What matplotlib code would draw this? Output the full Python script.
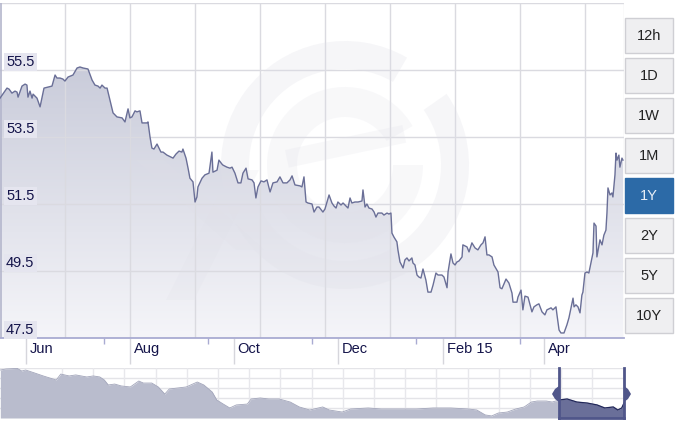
import datetime as dt
import numpy as np
import matplotlib
matplotlib.use("Agg")
import matplotlib.pyplot as plt
import matplotlib.dates as mdates
from matplotlib.patches import Rectangle, Polygon, Wedge
from matplotlib.colors import LinearSegmentedColormap

# ---------------- data ----------------
START = dt.date(2014, 5, 17)
SPAN_DAYS = 366

days = [0.0, 4.1, 5.3, 7.0, 8.8, 10.0, 10.6, 12.9, 14.7, 15.8, 16.4, 17.6, 18.8, 19.4, 21.7, 23.5,
        25.8, 28.2, 30.5, 32.3, 33.4, 35.2, 36.9, 38.1, 39.9, 42.8, 45.2, 46.9, 48.7, 51.6, 54.0,
        55.7, 57.5, 58.7, 59.8, 61.6, 62.8, 64.5, 66.3, 68.6, 71.6, 73.3, 75.1, 76.2, 77.4, 79.2,
        80.3, 82.1, 83.3, 86.2, 86.8, 88.0, 89.1, 90.3, 92.1, 94.4, 95.6, 97.9, 100.3, 101.5,
        103.2, 105.0, 106.7, 107.3, 109.1, 110.3, 111.4, 113.2, 114.4, 115.5, 116.1, 118.5,
        120.2, 122.6, 124.3, 124.9, 127.3, 128.4, 130.2, 130.8, 133.1, 134.9, 136.1, 137.8,
        139.6, 141.3, 142.5, 144.3, 145.5, 147.8, 149.0, 150.1, 151.3, 153.1, 154.8, 156.6,
        158.4, 160.1, 162.5, 164.2, 166.0, 168.3, 170.1, 171.3, 173.0, 176.0, 177.1, 178.3,
        179.5, 180.6, 183.0, 184.2, 185.9, 187.1, 189.4, 190.6, 191.8, 193.0, 194.7, 195.9,
        197.1, 198.2, 200.0, 201.2, 203.5, 204.1, 205.3, 206.4, 208.2, 210.0, 212.3, 212.9,
        214.1, 215.2, 216.4, 218.2, 219.4, 220.5, 221.7, 224.0, 225.2, 227.0, 228.1, 229.3,
        229.9, 231.1, 232.8, 233.4, 234.6, 236.4, 237.5, 238.7, 239.9, 241.6, 242.2, 243.4,
        244.6, 245.7, 246.9, 248.1, 249.8, 251.0, 252.8, 254.0, 255.7, 256.9, 259.2, 260.4,
        262.2, 262.8, 264.5, 265.7, 266.9, 268.0, 269.2, 271.0, 271.5, 273.9, 275.1, 276.8,
        278.6, 280.3, 282.1, 283.3, 284.5, 285.6, 286.8, 288.6, 289.7, 292.1, 293.3, 294.4,
        296.8, 298.5, 300.3, 300.9, 303.2, 303.8, 305.6, 306.7, 307.9, 309.7, 312.0, 313.2,
        314.9, 316.1, 317.9, 319.6, 320.8, 323.2, 324.3, 326.1, 326.7, 327.9, 329.0, 330.8,
        332.5, 333.7, 334.9, 336.1, 336.7, 337.8, 339.0, 340.2, 341.3, 341.9, 343.1, 344.3,
        345.4, 346.6, 347.8, 348.4, 349.6, 350.1, 351.9, 353.1, 354.2, 355.4, 356.0, 356.6,
        357.8, 358.9, 359.5, 360.7, 361.3, 361.9, 363.0, 363.6, 364.8, 365.4]

rates = [54.66, 54.96, 54.93, 54.81, 54.87, 54.84, 54.69, 55.02, 55.08, 55.05, 54.69, 54.87, 54.66,
         54.78, 54.66, 54.40, 54.96, 54.99, 55.02, 55.35, 55.26, 55.26, 55.23, 55.17, 55.29, 55.35,
         55.56, 55.59, 55.56, 55.53, 55.20, 55.05, 55.02, 54.96, 55.05, 54.96, 54.96, 54.60, 54.22,
         54.10, 54.07, 53.95, 54.34, 54.07, 54.10, 54.28, 54.25, 54.28, 53.92, 53.92, 53.95, 53.50,
         53.17, 53.14, 53.29, 53.05, 53.05, 52.96, 52.90, 52.87, 52.99, 53.08, 53.05, 53.14, 52.87,
         52.57, 52.27, 52.16, 51.56, 51.71, 52.01, 52.27, 52.37, 52.42, 53.05, 52.45, 52.51, 52.81,
         52.69, 52.66, 52.60, 52.57, 52.60, 52.42, 52.13, 52.13, 52.42, 52.57, 52.25, 52.22, 52.13,
         51.68, 52.01, 52.19, 52.16, 52.22, 51.86, 52.13, 52.16, 52.31, 52.13, 52.13, 52.22, 52.34,
         52.07, 52.04, 52.01, 52.31, 51.56, 51.53, 51.50, 51.26, 51.41, 51.41, 51.26, 51.35, 51.56,
         51.77, 51.53, 51.44, 51.38, 51.56, 51.47, 51.53, 51.41, 51.38, 51.68, 51.53, 51.56, 51.56,
         51.59, 51.92, 51.41, 51.50, 51.38, 51.35, 51.26, 51.11, 51.23, 51.23, 51.17, 51.23, 51.20,
         51.23, 50.63, 50.51, 50.37, 50.13, 49.77, 49.59, 49.83, 49.89, 49.80, 49.89, 49.74, 49.68,
         49.38, 49.32, 49.29, 49.56, 49.23, 48.87, 48.87, 49.08, 49.44, 49.38, 49.38, 49.32, 49.00,
         49.47, 50.01, 49.74, 49.68, 49.77, 49.80, 49.92, 50.28, 50.22, 50.07, 50.34, 50.19, 50.13,
         50.28, 50.34, 50.52, 49.98, 49.98, 49.92, 49.68, 49.47, 49.00, 48.97, 49.26, 49.14, 48.84,
         48.57, 48.57, 48.72, 48.93, 48.34, 48.75, 48.72, 48.28, 48.43, 48.49, 48.52, 48.28, 48.19,
         48.34, 48.40, 48.34, 48.43, 48.19, 47.74, 47.65, 47.65, 47.89, 48.10, 48.40, 48.69, 48.43,
         48.49, 48.43, 48.25, 48.78, 48.87, 49.44, 49.47, 49.44, 49.74, 50.04, 50.93, 50.84, 49.92,
         50.43, 50.28, 50.57, 50.72, 51.23, 51.98, 51.77, 51.83, 51.71, 52.37, 53.02, 52.81, 52.96,
         52.60, 52.87, 52.81]

nav_years = [2005.78, 2005.87, 2006.04, 2006.11, 2006.17, 2006.31, 2006.44, 2006.64, 2006.71, 2006.84,
             2006.94, 2007.11, 2007.21, 2007.31, 2007.38, 2007.44, 2007.54, 2007.64, 2007.78, 2007.91,
             2007.98, 2008.11, 2008.21, 2008.31, 2008.38, 2008.51, 2008.64, 2008.81, 2008.91, 2009.04,
             2009.11, 2009.21, 2009.31, 2009.41, 2009.58, 2009.64, 2009.78, 2009.91, 2010.07, 2010.24,
             2010.38, 2010.54, 2010.74, 2010.84, 2011.04, 2011.17, 2011.44, 2011.64, 2011.78, 2011.98,
             2012.18, 2012.44, 2012.71, 2012.98, 2013.11, 2013.24, 2013.34, 2013.44, 2013.58, 2013.71,
             2013.84, 2013.95, 2014.04, 2014.18, 2014.27, 2014.38, 2014.50, 2014.65, 2014.81, 2014.96,
             2015.08, 2015.21, 2015.28, 2015.34, 2015.375]
nav_values = [75.2, 75.9, 76.3, 74.5, 75.2, 73.1, 71.1, 68.3, 72.4, 71.1,
              71.8, 70.4, 71.1, 70.4, 68.3, 64.9, 65.5, 64.2, 63.5, 67.6,
              66.2, 66.2, 63.5, 58.6, 62.1, 62.8, 63.5, 66.9, 64.9, 60.0,
              54.5, 51.7, 49.0, 51.1, 51.7, 55.2, 55.9, 55.2, 55.2, 53.1,
              49.7, 47.6, 49.7, 47.6, 46.2, 48.3, 49.0, 48.3, 48.3, 48.3,
              48.3, 49.0, 49.0, 48.3, 47.6, 44.2, 43.5, 45.5, 46.2, 48.3,
              49.7, 53.1, 53.8, 53.8, 53.1, 54.5, 55.2, 53.1, 52.4, 51.1,
              49.0, 49.7, 47.6, 49.0, 52.4]

y_ticks = [47.5, 49.5, 51.5, 53.5, 55.5]
y_grid = [49.5, 51.5, 53.5, 55.5, 57.5]
x_tick_dates = ["2014-06-01", "2014-08-01", "2014-10-01", "2014-12-01", "2015-02-01", "2015-04-01"]
x_tick_labels = ["Jun", "Aug", "Oct", "Dec", "Feb 15", "Apr"]
x_minor_dates = ["2014-07-17", "2014-09-16", "2014-11-16", "2015-01-16", "2015-03-18"]
buttons = ["12h", "1D", "1W", "1M", "1Y", "2Y", "5Y", "10Y"]
active_button = "1Y"
nav_sel_start = 2014.375
nav_range = (2005.775, 2015.375)

# ---------------- style ----------------
LINE = "#6a6f97"
GRID = "#dadae0"
LABEL = "#14144a"
W, H = 680, 423

plt.rcParams["font.family"] = ["Liberation Sans", "DejaVu Sans"]
fig = plt.figure(figsize=(W / 100, H / 100), dpi=100)
fig.patch.set_facecolor("white")


def fx(px):
    return px / W


def fy(py):
    return 1 - py / H


# pixel-space helper axes (for watermark / buttons)
px_ax = fig.add_axes([0, 0, 1, 1], zorder=-1)
px_ax.set_xlim(0, W)
px_ax.set_ylim(H, 0)
px_ax.axis("off")

# main axes: x px 0..624, y px 3..338
ax = fig.add_axes([fx(0), fy(338), fx(624), (338 - 3) / H])
ax.patch.set_alpha(0)
x0 = mdates.date2num(START)
xs = x0 + np.array(days)
ax.set_xlim(x0, x0 + SPAN_DAYS)
ax.set_ylim(47.5, 57.5)
for s in ax.spines.values():
    s.set_visible(False)
ax.set_yticks([])

# gradient fill under the line
cmap = LinearSegmentedColormap.from_list("g", ["#f5f5f9", "#bfc2d3"])
grad = np.linspace(0, 1, 256).reshape(-1, 1)
im = ax.imshow(grad, extent=[x0, x0 + SPAN_DAYS, 47.5, 57.5], origin="lower",
               aspect="auto", cmap=cmap, zorder=1, interpolation="bilinear")
verts = [(xs[0], 47.5)] + list(zip(xs, rates)) + [(xs[-1], 47.5)]
clip = Polygon(verts, closed=True, facecolor="none", edgecolor="none")
ax.add_patch(clip)
im.set_clip_path(clip)

# grid
for v in y_grid:
    ax.axhline(v, color=GRID, lw=1, zorder=2)
step = SPAN_DAYS * 65 / 624
for k in range(1, 10):
    ax.axvline(x0 + k * step, color=GRID, lw=1, zorder=2)
ax.axvline(x0 + SPAN_DAYS, color="#e6e6ea", lw=1, zorder=2)
ax.axvline(x0 + 0.3, color="#b4b6cc", lw=1.2, zorder=3)

# faint watermark (xe logo ring + x)
ring = Wedge((345, 165), 124, -35, 300, width=28, facecolor="#e0e0e8", alpha=0.28,
             edgecolor="none", zorder=2.5, transform=px_ax.transData)
ax.add_artist(ring)
inner = Wedge((345, 165), 78, 0, 330, width=30, facecolor="#e0e0e8", alpha=0.22,
              edgecolor="none", zorder=2.5, transform=px_ax.transData)
ax.add_artist(inner)
bar = Rectangle((285, 150), 120, 18, angle=-12, facecolor="#e0e0e8", alpha=0.22,
                edgecolor="none", zorder=2.5, transform=px_ax.transData)
ax.add_artist(bar)
for (a, b), (c, d) in (((150, 160), (250, 250)), ((180, 300), (245, 170))):
    xp = Polygon([(a - 14, b), (a + 14, b), (c + 14, d), (c - 14, d)], closed=True,
                 facecolor="#e0e0e8", alpha=0.2, edgecolor="none", zorder=2.5,
                 transform=px_ax.transData)
    ax.add_artist(xp)

# the line
ax.plot(xs, rates, color=LINE, lw=1.0, zorder=4, solid_joinstyle="round")

# bottom axis line
ax.axhline(47.5, color="#a9abd2", lw=1.3, zorder=5, clip_on=False)

# x ticks
major = [mdates.date2num(dt.date.fromisoformat(d)) for d in x_tick_dates]
minor = [mdates.date2num(dt.date.fromisoformat(d)) for d in x_minor_dates]
ax.set_xticks(major)
ax.set_xticklabels([])
ax.set_xticks(minor, minor=True)
ax.tick_params(axis="x", which="major", length=19, width=1, color="#d6d6dc", direction="out")
ax.tick_params(axis="x", which="minor", length=4, width=1, color="#a9abd2", direction="out")
for m, lab in zip(major, x_tick_labels):
    ax.annotate(lab, xy=(m, 0), xycoords=("data", "axes fraction"), xytext=(4, -11),
                textcoords="offset pixels", ha="left", va="center", fontsize=10.5,
                color=LABEL, annotation_clip=False)

# y labels inside plot
for v in y_ticks:
    ax.annotate(f"{v:.1f}", xy=(0, v), xycoords=("axes fraction", "data"), xytext=(6, 8),
                textcoords="offset pixels", ha="left", va="center", fontsize=10.5,
                color=LABEL, zorder=6,
                bbox=dict(boxstyle="square,pad=0.15", facecolor="#e5e5ef", edgecolor="none"))

# ---------------- navigator ----------------
nav = fig.add_axes([fx(0), fy(418), fx(624), 50 / H])
nav.set_xlim(*nav_range)
nav.set_ylim(42.08, 76.58)
for s in nav.spines.values():
    s.set_visible(False)
nav.set_xticks([])
nav.set_yticks([])
for k in range(5):
    nav.axhline(76.58 - k * (76.58 - 42.08) / 5, color="#e4e4e8", lw=1, zorder=0)
nstep = (nav_range[1] - nav_range[0]) * 31.2 / 624
for k in range(1, 20):
    nav.axvline(nav_range[0] + (62 / 624) * (nav_range[1] - nav_range[0]) + (k - 1) * nstep,
                color="#e8e8ec", lw=1, zorder=0)
ny = np.array(nav_years)
nv = np.array(nav_values)
nav.fill_between(ny, nv, 42.08, color="#b9bccd", lw=0, zorder=1)
nav.plot(ny, nv, color="#a2a5ba", lw=0.6, zorder=2)
sx = np.concatenate(([nav_sel_start], ny[ny > nav_sel_start]))
sv = np.interp(sx, ny, nv)
nav.fill_between(sx, sv, 42.08, color="#6a6f99", lw=0, zorder=3)
nav.plot(sx, sv, color="#22285a", lw=0.9, zorder=4)
for xv in (nav_sel_start, nav_range[1]):
    nav.axvline(xv, color="#50568a", lw=2, zorder=5, clip_on=False)
nav.plot([nav_sel_start, nav_range[1]], [42.08, 42.08], color="#50568a", lw=2, zorder=5,
         clip_on=False)

# ---------------- overlay: handles and buttons ----------------
ov = fig.add_axes([0, 0, 1, 1], zorder=10)
ov.set_xlim(0, W)
ov.set_ylim(H, 0)
ov.axis("off")
ov.patch.set_alpha(0)
for hx, d in ((559, -1), (624, 1)):
    ov.add_patch(Polygon([(hx, 386), (hx + d * 4, 389), (hx + d * 7, 394), (hx + d * 4, 399),
                          (hx, 402)], closed=True, facecolor="#50568a", edgecolor="none"))

for i, b in enumerate(buttons):
    top = 18 + i * 40
    act = b == active_button
    ov.add_patch(Rectangle((625, top), 48, 35,
                           facecolor="#2c6aa7" if act else "#efeff1",
                           edgecolor="#2c6aa7" if act else "#cfcfd4", lw=1))
    ov.text(649, top + 17.5, b, ha="center", va="center", fontsize=10.5,
            color="#e8eef6" if act else "#222222")

fig.savefig("out.png", dpi=100)
